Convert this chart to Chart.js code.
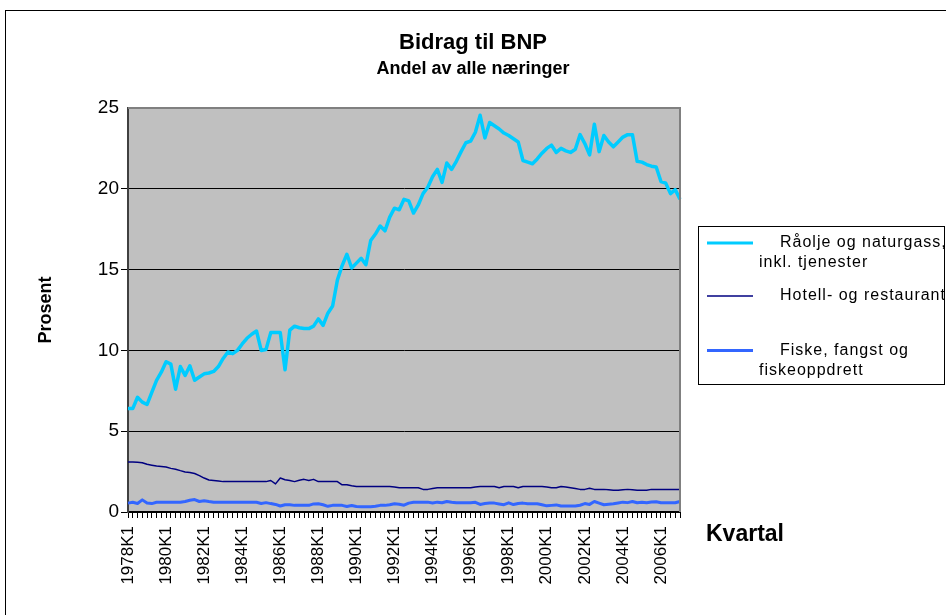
<!DOCTYPE html>
<html lang="no">
<head>
  <meta charset="UTF-8" />
  <title>Bidrag til BNP</title>
  <script src="https://cdn.jsdelivr.net/npm/chart.js"></script>
  <style>
    html, body { margin: 0; padding: 0; background: #fff; }
  </style>
</head>
<body>
  <canvas id="bnpChart" width="946" height="615"></canvas>
  <script>
    // kvartaler 1978K1 - 2007K1
    const startAar = 1978;
    const antallKvartaler = 117;
    const etikettSteg = 8;
    const kvartaler = [];
    for (let i = 0; i < antallKvartaler; i++) {
      kvartaler.push((startAar + Math.floor(i / 4)) + 'K' + (i % 4 + 1));
    }

    const yTicks = [0, 5, 10, 15, 20, 25];

    const raolje = [
      6.4, 6.4, 7.1, 6.8, 6.65, 7.4, 8.15, 8.65, 9.3, 9.15,
      7.6, 9.0, 8.45, 9.05, 8.15, 8.35, 8.55, 8.6, 8.7, 9.0,
      9.5, 9.9, 9.8, 10.0, 10.4, 10.75, 11.0, 11.2, 10.0, 10.05,
      11.1, 11.1, 11.1, 8.8, 11.25, 11.5, 11.4, 11.35, 11.35, 11.5,
      11.95, 11.55, 12.3, 12.75, 14.35, 15.25, 15.95, 15.1, 15.4, 15.7,
      15.3, 16.8, 17.2, 17.7, 17.4, 18.25, 18.8, 18.7, 19.35, 19.25,
      18.5, 19.0, 19.7, 20.1, 20.75, 21.2, 20.4, 21.6, 21.2, 21.7,
      22.3, 22.85, 22.95, 23.5, 24.55, 23.15, 24.1, 23.9, 23.7, 23.45,
      23.3, 23.1, 22.9, 21.75, 21.65, 21.55, 21.85, 22.2, 22.5, 22.7,
      22.25, 22.5, 22.35, 22.25, 22.45, 23.35, 22.8, 22.1, 24.0, 22.3,
      23.3, 22.9, 22.6, 22.9, 23.2, 23.35, 23.35, 21.7, 21.65, 21.5,
      21.4, 21.35, 20.45, 20.35, 19.7, 19.95, 19.35
    ];

    const hotell = [
      3.1, 3.1, 3.08, 3.05, 2.95, 2.9, 2.85, 2.82, 2.78, 2.7,
      2.65, 2.56, 2.48, 2.45, 2.38, 2.25, 2.1, 1.98, 1.95, 1.92,
      1.88, 1.88, 1.88, 1.88, 1.88, 1.88, 1.88, 1.88, 1.88, 1.88,
      1.95, 1.74, 2.1, 2.0, 1.95, 1.88, 1.97, 2.02, 1.95, 2.02,
      1.88, 1.88, 1.88, 1.88, 1.88, 1.68, 1.68, 1.62, 1.58, 1.58,
      1.58, 1.58, 1.58, 1.58, 1.58, 1.58, 1.55, 1.5, 1.5, 1.5,
      1.5, 1.5, 1.4, 1.4, 1.45, 1.5, 1.5, 1.5, 1.5, 1.5,
      1.5, 1.5, 1.5, 1.55, 1.58, 1.58, 1.58, 1.58, 1.5, 1.58,
      1.58, 1.58, 1.5, 1.58, 1.58, 1.58, 1.58, 1.58, 1.55, 1.5,
      1.5, 1.58, 1.55, 1.5, 1.45, 1.4, 1.4, 1.47, 1.4, 1.4,
      1.4, 1.38, 1.35, 1.35, 1.38, 1.4, 1.38, 1.35, 1.35, 1.35,
      1.4, 1.4, 1.4, 1.4, 1.4, 1.4, 1.4
    ];

    const fiske = [
      0.55, 0.6, 0.53, 0.75, 0.55, 0.52, 0.6, 0.61, 0.61, 0.61,
      0.61, 0.61, 0.65, 0.73, 0.77, 0.65, 0.7, 0.65, 0.61, 0.61,
      0.61, 0.61, 0.61, 0.61, 0.61, 0.61, 0.61, 0.6, 0.53, 0.58,
      0.52, 0.47, 0.37, 0.45, 0.45, 0.41, 0.41, 0.41, 0.41, 0.5,
      0.51, 0.45, 0.35, 0.41, 0.41, 0.41, 0.34, 0.4, 0.34, 0.33,
      0.33, 0.33, 0.35, 0.41, 0.41, 0.45, 0.51, 0.48, 0.42, 0.55,
      0.6, 0.61, 0.61, 0.61, 0.56, 0.61, 0.57, 0.65, 0.6, 0.57,
      0.57, 0.57, 0.57, 0.6, 0.47, 0.52, 0.55, 0.55, 0.5, 0.45,
      0.57, 0.46, 0.53, 0.55, 0.51, 0.51, 0.51, 0.45, 0.38, 0.41,
      0.44, 0.37, 0.37, 0.37, 0.37, 0.42, 0.52, 0.47, 0.65, 0.55,
      0.45, 0.48, 0.51, 0.56, 0.61, 0.58, 0.65, 0.57, 0.61, 0.57,
      0.62, 0.63, 0.57, 0.57, 0.57, 0.57, 0.65
    ];

    const serieNavn = ['Råolje og naturgass, inkl. tjenester', 'Hotell- og restaurant', 'Fiske, fangst og fiskeoppdrett'];
    const legendTekst = [['Råolje og naturgass,', 'inkl. tjenester'], ['Hotell- og restaurant'], ['Fiske, fangst og', 'fiskeoppdrett']];

    const FONT = '"Liberation Sans", Arial, sans-serif';

    // bakgrunn, rammer, egen forklaring og x-aksetittel
    const ramme = {
      id: 'ramme',
      beforeDraw(chart) {
        const { ctx, chartArea: a } = chart;
        ctx.save();
        ctx.fillStyle = '#fff';
        ctx.fillRect(0, 0, chart.width, chart.height);
        ctx.strokeStyle = '#000';
        ctx.lineWidth = 1;
        ctx.strokeRect(5.5, 10.5, chart.width, chart.height);
        ctx.fillStyle = '#c0c0c0';
        ctx.fillRect(a.left, a.top, a.right - a.left, a.bottom - a.top);
        ctx.restore();
      },
      afterDraw(chart) {
        const { ctx, chartArea: a } = chart;
        ctx.save();
        ctx.strokeStyle = '#808080';
        ctx.lineWidth = 2;
        ctx.beginPath();
        ctx.moveTo(a.left, a.top);
        ctx.lineTo(a.right, a.top);
        ctx.lineTo(a.right, a.bottom);
        ctx.stroke();

        ctx.strokeStyle = '#000';
        ctx.lineWidth = 1;
        ctx.strokeRect(698.5, 226.5, 246, 158);

        const radY = [243, 296, 350.5];
        ctx.font = '16px ' + FONT;
        ctx.letterSpacing = '1px';
        ctx.textBaseline = 'middle';
        ctx.fillStyle = '#000';
        chart.data.datasets.forEach((ds, i) => {
          ctx.strokeStyle = ds.borderColor;
          ctx.lineWidth = i === 0 ? 3 : ds.borderWidth;
          ctx.beginPath();
          ctx.moveTo(707, radY[i]);
          ctx.lineTo(753, radY[i]);
          ctx.stroke();
          ctx.fillText(legendTekst[i][0], 780, radY[i]);
          if (legendTekst[i][1]) ctx.fillText(legendTekst[i][1], 759, radY[i] + 20);
        });

        ctx.letterSpacing = '0px';
        ctx.font = 'bold 23px ' + FONT;
        ctx.fillText('Kvartal', 706, 535);
        ctx.restore();
      }
    };

    new Chart(document.getElementById('bnpChart'), {
      type: 'line',
      data: {
        labels: kvartaler,
        datasets: [
          { label: serieNavn[0], data: raolje, borderColor: '#00ccff', borderWidth: 3.5 },
          { label: serieNavn[1], data: hotell, borderColor: '#000080', borderWidth: 1.5 },
          { label: serieNavn[2], data: fiske, borderColor: '#3366ff', borderWidth: 3 }
        ]
      },
      options: {
        responsive: false,
        devicePixelRatio: 1,
        animation: false,
        elements: {
          point: { radius: 0 },
          line: { tension: 0, borderJoinStyle: 'round', fill: false }
        },
        layout: { padding: 0 },
        plugins: {
          legend: { display: false },
          tooltip: { enabled: false },
          title: {
            display: true,
            text: 'Bidrag til BNP',
            color: '#000',
            font: { family: FONT, size: 22, weight: 'bold', lineHeight: 1.2 },
            padding: { top: 30, bottom: 0 }
          },
          subtitle: {
            display: true,
            text: 'Andel av alle næringer',
            color: '#000',
            font: { family: FONT, size: 18, weight: 'bold', lineHeight: 1.2 },
            padding: { top: 1.8, bottom: 28.2 }
          }
        },
        scales: {
          x: {
            offset: false,
            afterFit: s => { s.height = 103; },
            grid: { drawOnChartArea: false, color: '#000', tickLength: 6 },
            border: { color: '#000', width: 2 },
            ticks: {
              autoSkip: false,
              minRotation: 90,
              maxRotation: 90,
              padding: 8,
              color: '#000',
              font: { family: FONT, size: 17 },
              callback: function (v, i) { return i % etikettSteg === 0 ? kvartaler[i] : ''; }
            }
          },
          y: {
            min: yTicks[0],
            max: yTicks[yTicks.length - 1],
            afterFit: s => { s.width = 128; },
            afterBuildTicks: s => { s.ticks = yTicks.map(v => ({ value: v })); },
            grid: {
              color: c => (c.tick && c.tick.value === 25 ? 'rgba(0,0,0,0)' : '#000'),
              tickLength: 7
            },
            border: { color: '#404040', width: 2 },
            ticks: { padding: 2, color: '#000', font: { family: FONT, size: 19 } },
            title: {
              display: true,
              text: 'Prosent',
              color: '#000',
              font: { family: FONT, size: 18, weight: 'bold', lineHeight: 1.2 },
              padding: { top: 35 }
            }
          },
          plass: {
            type: 'linear',
            position: 'right',
            afterFit: s => { s.width = 266; },
            grid: { display: false },
            ticks: { display: false },
            border: { display: false }
          }
        }
      },
      plugins: [ramme]
    });
  </script>
</body>
</html>
